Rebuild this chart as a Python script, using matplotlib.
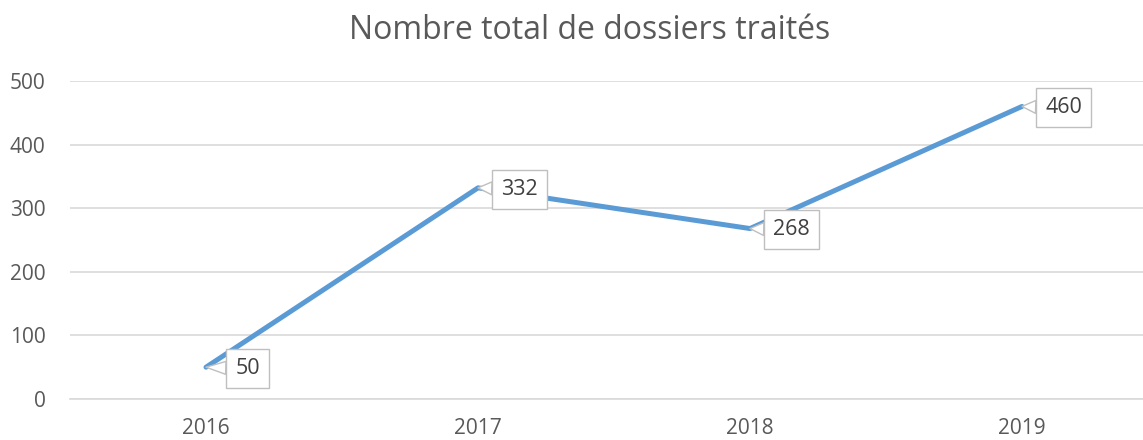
import matplotlib.pyplot as plt
import numpy as np

years = ['2016', '2017', '2018', '2019']
dossiers = [50, 332, 268, 460]
yticks = [0, 100, 200, 300, 400, 500]

plt.rcParams['font.family'] = ['Open Sans', 'DejaVu Sans']

fig = plt.figure(figsize=(11.43, 4.4), dpi=100)
ax = fig.add_axes([70 / 1143, 41 / 440, 1073 / 1143, 318 / 440])

x = np.arange(len(years))
ax.plot(x, dossiers, color='#5B9BD5', linewidth=3.6, solid_capstyle='round', zorder=3)

ax.set_xlim(-0.5, -0.5 + 1073 / 272)
ax.set_ylim(0, 500)
ax.set_yticks(yticks)
ax.set_xticks(x)
ax.set_xticklabels(years)
ax.grid(axis='y', color='#D9D9D9', linewidth=1.2)
ax.set_axisbelow(True)
for s in ['top', 'right', 'left']:
    ax.spines[s].set_visible(False)
ax.spines['bottom'].set_color('#D9D9D9')
ax.spines['bottom'].set_linewidth(1.2)
ax.tick_params(length=0, labelsize=15, colors='#595959')
ax.tick_params(axis='y', pad=17.5)
ax.tick_params(axis='x', pad=14)

# callout labels
for xi, v in zip(x, dossiers):
    ax.annotate(str(v), xy=(xi, v), xytext=(30, -1), textcoords='offset points',
                ha='center', va='center', fontsize=15.5, color='#404040',
                bbox=dict(boxstyle='square,pad=0.42', fc='white', ec='#BFBFBF', lw=1),
                arrowprops=dict(arrowstyle='wedge,tail_width=0.6', fc='white', ec='#BFBFBF',
                                lw=1, shrinkA=0, shrinkB=0),
                zorder=4)

fig.text(590 / 1143, 0.93, 'Nombre total de dossiers traités', ha='center', va='center',
         fontsize=23, color='#595959')

fig.savefig('out.png', dpi=100)
